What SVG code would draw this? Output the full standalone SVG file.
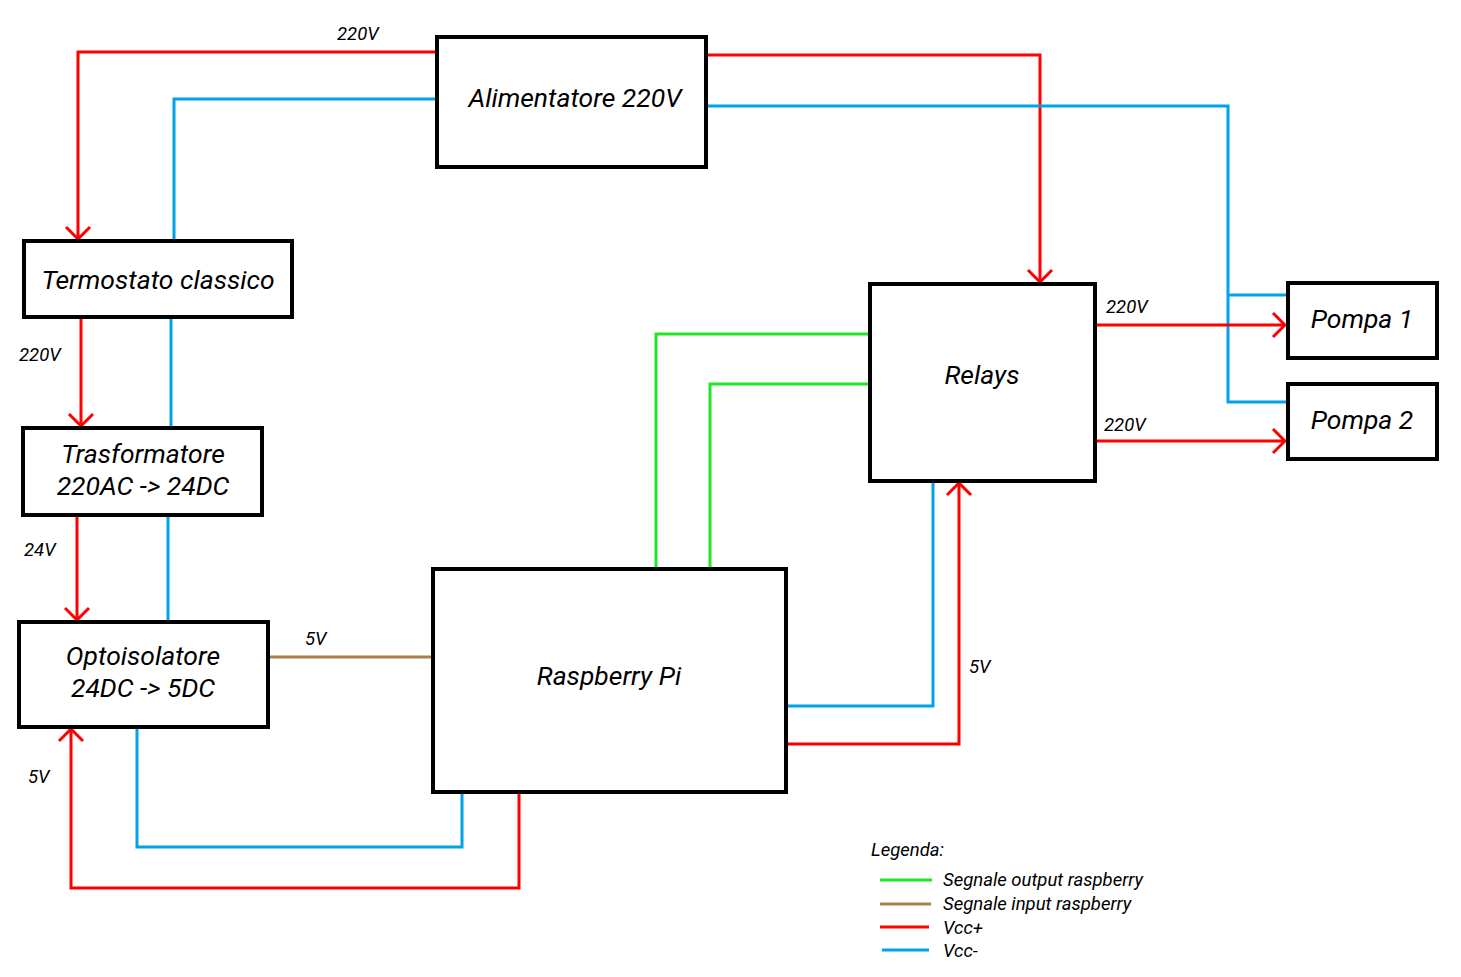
<svg xmlns="http://www.w3.org/2000/svg" width="1461" height="977" viewBox="0 0 1461 977">
<style>
.box{fill:#fff;stroke:#000;stroke-width:4}
.t{font-family:Roboto,"Liberation Sans",sans-serif;font-style:italic;font-weight:400;font-size:26.5px;fill:#000;text-anchor:middle}
.l{font-family:Roboto,"Liberation Sans",sans-serif;font-style:italic;font-weight:400;font-size:18.5px;fill:#000}
.r{fill:none;stroke:#ff0000;stroke-width:3}
.b{fill:none;stroke:#00a2e8;stroke-width:3}
.g{fill:none;stroke:#22e622;stroke-width:3}
.br{fill:none;stroke:#a8804a;stroke-width:3}
</style>
<defs>
<marker id="arr" markerUnits="userSpaceOnUse" viewBox="-14 -14 16 28" markerWidth="16" markerHeight="28" refX="0" refY="0" orient="auto">
<path d="M-12,-12 L0,0 L-12,12" fill="none" stroke="#ff0000" stroke-width="3"/>
</marker>
</defs>
<rect width="1461" height="977" fill="#fff"/>
<g id="connectors">
<polyline class="r" points="437,52 78,52 78,239" marker-end="url(#arr)"/>
<polyline class="b" points="437,99 174,99 174,241"/>
<polyline class="r" points="706,55 1040,55 1040,282" marker-end="url(#arr)"/>
<polyline class="b" points="706,106 1228,106 1228,402 1286,402"/>
<polyline class="b" points="1228,295 1286,295"/>
<polyline class="r" points="81,317 81,426" marker-end="url(#arr)"/>
<polyline class="b" points="171,317 171,428"/>
<polyline class="r" points="77,515 77,620" marker-end="url(#arr)"/>
<polyline class="b" points="168,515 168,622"/>
<polyline class="br" points="268,657 433,657"/>
<polyline class="r" points="519,792 519,888 71,888 71,729" marker-end="url(#arr)"/>
<polyline class="b" points="137,727 137,847 462,847 462,792"/>
<polyline class="g" points="656,569 656,334 870,334"/>
<polyline class="g" points="710,569 710,384 870,384"/>
<polyline class="b" points="786,706 933,706 933,481"/>
<polyline class="r" points="786,744 959,744 959,483" marker-end="url(#arr)"/>
<polyline class="r" points="1095,325 1285,325" marker-end="url(#arr)"/>
<polyline class="r" points="1095,441 1285,441" marker-end="url(#arr)"/>
<text class="l" x="337" y="40">220V</text>
<text class="l" x="19" y="361">220V</text>
<text class="l" x="24" y="556">24V</text>
<text class="l" x="305" y="645">5V</text>
<text class="l" x="28" y="783">5V</text>
<text class="l" x="969" y="673">5V</text>
<text class="l" x="1106" y="313">220V</text>
<text class="l" x="1104" y="431">220V</text>
</g>
<g id="alimentatore"><rect class="box" x="437" y="37" width="269" height="130"/><text class="t" x="575" y="107">Alimentatore 220V</text></g>
<g id="termostato"><rect class="box" x="24" y="241" width="268" height="76"/><text class="t" x="158" y="289">Termostato classico</text></g>
<g id="trasformatore"><rect class="box" x="23" y="428" width="239" height="87"/><text class="t" x="143" y="463">Trasformatore</text><text class="t" x="143" y="495">220AC -&gt; 24DC</text></g>
<g id="optoisolatore"><rect class="box" x="19" y="622" width="249" height="105"/><text class="t" x="143" y="665">Optoisolatore</text><text class="t" x="143" y="697">24DC -&gt; 5DC</text></g>
<g id="raspberry"><rect class="box" x="433" y="569" width="353" height="223"/><text class="t" x="609" y="685">Raspberry Pi</text></g>
<g id="relays"><rect class="box" x="870" y="284" width="225" height="197"/><text class="t" x="982" y="384">Relays</text></g>
<g id="pompa1"><rect class="box" x="1288" y="283" width="149" height="75"/><text class="t" x="1362" y="328">Pompa 1</text></g>
<g id="pompa2"><rect class="box" x="1288" y="384" width="149" height="75"/><text class="t" x="1362" y="429">Pompa 2</text></g>
<g id="legend">
<text class="l" x="871" y="856">Legenda:</text>
<line class="g" x1="880" y1="880" x2="932" y2="880"/>
<line class="br" x1="880" y1="904" x2="931" y2="904"/>
<line class="r" x1="880" y1="927" x2="929" y2="927"/>
<line class="b" x1="882" y1="950" x2="929" y2="950"/>
<text class="l" x="943" y="886">Segnale output raspberry</text>
<text class="l" x="943" y="910">Segnale input raspberry</text>
<text class="l" x="943" y="934">Vcc+</text>
<text class="l" x="943" y="957">Vcc-</text>
</g>
</svg>
